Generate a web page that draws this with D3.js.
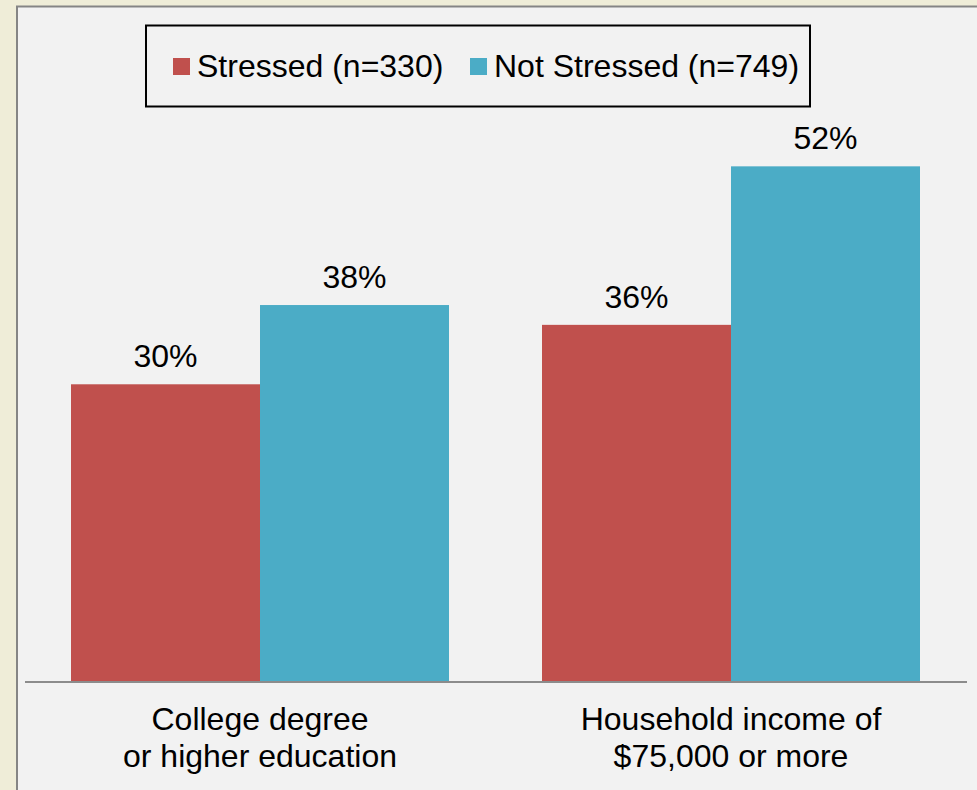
<!DOCTYPE html>
<html><head><meta charset="utf-8">
<script src="https://cdn.jsdelivr.net/npm/d3@7"></script>
<style>html,body{margin:0;padding:0;background:#efedd8;}svg{display:block;}</style>
</head><body>
<svg id="c" width="977" height="790"></svg>
<script>
const categories = [["College degree","or higher education"],["Household income of","$75,000 or more"]];
const seriesNames = ["Stressed (n=330)","Not Stressed (n=749)"];
const stressed = [30, 36];
const notStressed = [38, 52];
const colors = ["#c0504d","#4bacc6"];

const svg = d3.select("#c");
const font = "'Liberation Sans', Arial, sans-serif";
const fs = 32;

svg.append("rect").attr("x",0).attr("y",0).attr("width",977).attr("height",790).attr("fill","#efedd8");
svg.append("rect").attr("x",17).attr("y",6.5).attr("width",975).attr("height",800)
  .attr("fill","#f2f2f2").attr("stroke","#858585").attr("stroke-width",2);

const x0 = d3.scaleBand().domain(d3.range(categories.length)).range([24.5,966.5]).paddingInner(0).paddingOuter(0);
const inner = 378;
const x1 = d3.scaleBand().domain(d3.range(seriesNames.length)).range([0, inner]);
const y = d3.scaleLinear().domain([0,60]).range([681.5, 681.5-60*9.907]);

const data = categories.map((c,i)=>({i, vals:[stressed[i], notStressed[i]]}));
const g = svg.append("g");
const groups = g.selectAll("g.grp").data(data).join("g")
  .attr("transform", d=>`translate(${x0(d.i)+x0.bandwidth()/2-inner/2},0)`);
groups.selectAll("rect").data(d=>d.vals.map((v,k)=>({v,k}))).join("rect")
  .attr("x", d=>x1(d.k)).attr("width", x1.bandwidth())
  .attr("y", d=>y(d.v)).attr("height", d=>y(0)-y(d.v))
  .attr("fill", d=>colors[d.k]);
groups.selectAll("text.val").data(d=>d.vals.map((v,k)=>({v,k}))).join("text")
  .attr("class","val")
  .attr("x", d=>x1(d.k)+x1.bandwidth()/2).attr("y", d=>y(d.v)-17)
  .attr("text-anchor","middle").attr("font-family",font).attr("font-size",fs).attr("fill","#000")
  .text(d=>d.v+"%");

// axis
const axis = d3.axisBottom(x0).tickSize(0).tickFormat("");
const ag = svg.append("g").attr("transform","translate(0,681.5)").call(axis);
ag.select(".domain").attr("stroke","#8c8c8c").attr("stroke-width",2);
categories.forEach((lines,i)=>{
  const t = svg.append("text").attr("text-anchor","middle").attr("font-family",font).attr("font-size",fs).attr("fill","#000");
  lines.forEach((l,j)=>{
    t.append("tspan").attr("x", x0(i)+x0.bandwidth()/2).attr("y", 730+j*37).text(l);
  });
});

// legend
svg.append("rect").attr("x",146).attr("y",25.5).attr("width",664).attr("height",81)
  .attr("fill","#f2f2f2").attr("stroke","#000").attr("stroke-width",2);
const legX = [173, 470];
seriesNames.forEach((n,k)=>{
  svg.append("rect").attr("x",legX[k]).attr("y",58).attr("width",17).attr("height",17).attr("fill",colors[k]);
  svg.append("text").attr("x",legX[k]+24).attr("y",77).attr("font-family",font).attr("font-size",fs).attr("fill","#000").text(n);
});
</script>
</body></html>
